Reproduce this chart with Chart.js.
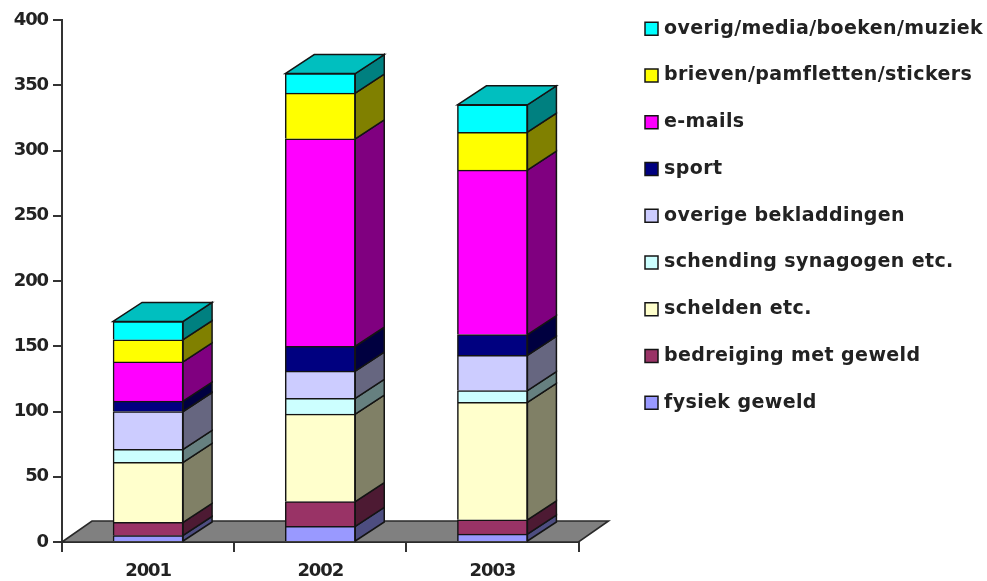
<!DOCTYPE html>
<html>
<head>
<meta charset="utf-8">
<script src="https://cdn.jsdelivr.net/npm/chart.js@4"></script>
<style>
html,body{margin:0;padding:0;background:#fff;overflow:hidden}
#wrap{width:987px;height:581px;position:relative}
canvas{filter:blur(0.55px)}
</style>
</head>
<body>
<div id="wrap"><canvas id="c" width="987" height="581"></canvas></div>
<script>
const categories = ['2001','2002','2003'];
const fysiekGeweld = [5,12,6];
const bedreiging = [10,19,11];
const schelden = [46,67,90];
const schending = [10,12,9];
const overigeBekladdingen = [29,21,27];
const sport = [8,19,16];
const emails = [30,159,126];
const brieven = [17,35,29];
const overigMedia = [14,15,21];
const seriesNames = ['fysiek geweld','bedreiging met geweld','schelden etc.','schending synagogen etc.','overige bekladdingen','sport','e-mails','brieven/pamfletten/stickers','overig/media/boeken/muziek'];
const seriesValues = [fysiekGeweld,bedreiging,schelden,schending,overigeBekladdingen,sport,emails,brieven,overigMedia];
const seriesColors = ['#9999FF','#993366','#FFFFCC','#CCFFFF','#CCCCFF','#000080','#FF00FF','#FFFF00','#00FFFF'];
const yTicks = [0,50,100,150,200,250,300,350,400];

const EDGE = '#141414';
const FONT = '"DejaVu Sans",Verdana,sans-serif';
const shade = (hex,f)=>{
  const n=parseInt(hex.slice(1),16);
  return `rgb(${Math.round((n>>16&255)*f)},${Math.round((n>>8&255)*f)},${Math.round((n&255)*f)})`;
};
const poly = (ctx,pts,fill,stroke,lw)=>{
  ctx.beginPath();
  pts.forEach((p,i)=>i?ctx.lineTo(p[0],p[1]):ctx.moveTo(p[0],p[1]));
  ctx.closePath();
  ctx.fillStyle=fill;ctx.fill();
  ctx.lineWidth=lw;ctx.strokeStyle=stroke;ctx.stroke();
};
const depth = {bx:29,by:19,fx:30,fy:21};
const threeD = {
  id:'threeD',
  beforeInit(chart){ chart.ctx.letterSpacing='-1.1px'; },
  afterLayout(chart){
    const legend=chart.legend, ctx=chart.ctx;
    legend.top = -8.5;
    legend.left = 617.25;
    if(!legend._wrapped){
      legend._wrapped=true;
      const draw=legend.draw;
      legend.draw=function(){
        const ft=ctx.fillText;
        ctx.letterSpacing='0.4px';
        ctx.fillText=function(s,x,y){ft.call(ctx,s,x-3.5,y);};
        draw.call(this);
        delete ctx.fillText;
        ctx.letterSpacing='-1.1px';
      };
    }
  },
  beforeDatasetsDraw(chart){
    const {ctx,chartArea:a,scales:{x,y}}=chart;
    const y0=y.getPixelForValue(0);
    ctx.save();
    poly(ctx,[[a.left,y0],[a.left+depth.fx,y0-depth.fy],[a.right+depth.fx,y0-depth.fy],[a.right,y0]],'#808080','#2a2a2a',1.6);
    chart.data.datasets.forEach((ds,di)=>{
      const meta=chart.getDatasetMeta(di);
      meta.data.forEach((bar)=>{
        const r=bar.x+bar.width/2, t=Math.min(bar.y,bar.base), b=Math.max(bar.y,bar.base);
        poly(ctx,[[r,b],[r+depth.bx,b-depth.by],[r+depth.bx,t-depth.by],[r,t]],shade(ds.backgroundColor,0.5),EDGE,1.5);
      });
    });
    const last=chart.data.datasets.length-1;
    const ds=chart.data.datasets[last];
    chart.getDatasetMeta(last).data.forEach((bar)=>{
      const l=bar.x-bar.width/2,r=bar.x+bar.width/2,t=bar.y;
      poly(ctx,[[l,t],[l+depth.bx,t-depth.by],[r+depth.bx,t-depth.by],[r,t]],shade(ds.backgroundColor,0.75),EDGE,1.5);
    });
    ctx.restore();
  }
};

new Chart(document.getElementById('c'),{
  type:'bar',
  data:{
    labels:categories,
    datasets:seriesNames.map((n,i)=>({
      label:n,
      data:seriesValues[i],
      backgroundColor:seriesColors[i],
      borderColor:EDGE,
      borderWidth:1.5,
      barThickness:70
    }))
  },
  options:{
    responsive:false,
    animation:false,
    layout:{padding:{top:20,left:0,right:0,bottom:0}},
    plugins:{
      tooltip:{enabled:false},
      title:{display:false},
      legend:{
        display:true,
        position:'right',
        align:'start',
        reverse:true,
        onClick:null,
        labels:{
          boxWidth:13,
          boxHeight:13,
          padding:27.75,
          color:'#222',
          font:{family:FONT,weight:'bold',size:19}
        }
      }
    },
    scales:{
      x:{
        stacked:true,
        grid:{display:true,drawOnChartArea:false,drawTicks:true,tickLength:10,color:'#333',lineWidth:2,offset:true},
        border:{display:true,color:'#333',width:2},
        ticks:{color:'#222',padding:9,maxRotation:0,font:{family:FONT,weight:'bold',size:18}},
        afterFit(s){s.height=39;}
      },
      y:{
        stacked:true,
        min:0,max:400,
        afterBuildTicks(s){s.ticks=yTicks.map(v=>({value:v}));},
        grid:{display:true,drawOnChartArea:false,drawTicks:true,tickLength:9,color:'#333',lineWidth:2},
        border:{display:true,color:'#333',width:2},
        ticks:{color:'#222',padding:5,font:{family:FONT,weight:'bold',size:18}},
        afterFit(s){s.width=62;}
      },
      spacer:{
        type:'linear',
        position:'right',
        display:true,
        grid:{display:false},
        border:{display:false},
        ticks:{display:false},
        afterFit(s){s.width=244;}
      }
    }
  },
  plugins:[threeD]
});
</script>
</body>
</html>
